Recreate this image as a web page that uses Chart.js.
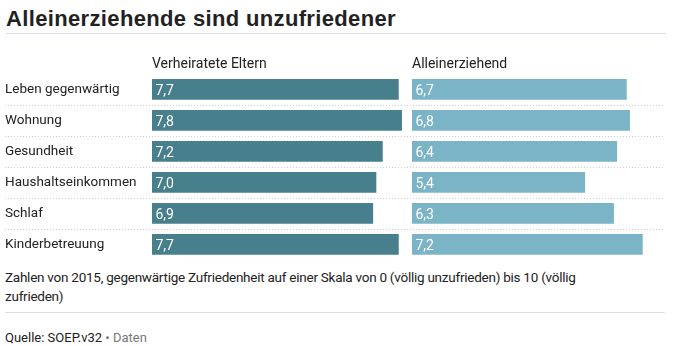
<!DOCTYPE html>
<html lang="de">
<head>
<meta charset="utf-8">
<script src="https://cdn.jsdelivr.net/npm/chart.js@4/dist/chart.umd.min.js"></script>
<style>
  html, body { margin: 0; padding: 0; background: #fff; }
  body { width: 673px; height: 346px; position: relative; overflow: hidden; color: #222;
         font-family: Roboto, sans-serif; }
  .title { position: absolute; left: 6px; top: 6px; margin: 0;
           font: bold 22px "Liberation Sans", Arial, sans-serif; letter-spacing: 0.35px; }
  .rule-top { position: absolute; left: 6px; width: 660px; top: 33px; border-top: 1px solid #e2d8e6; }
  .chart { position: absolute; left: 0; top: 50px; width: 673px; height: 218px; }
  .note { position: absolute; left: 5px; top: 268px; width: 665px; font-size: 13.5px; letter-spacing: -0.25px;
          line-height: 19px; margin: 0; }
  .rule-bottom { position: absolute; left: 5px; width: 660px; top: 312px; border-top: 1px solid #ddd; }
  .source { position: absolute; left: 5px; top: 330px; font-size: 13px; margin: 0; }
  .source .dim { color: #777; }
</style>
</head>
<body>
<h1 class="title">Alleinerziehende sind unzufriedener</h1>
<div class="rule-top"></div>
<div class="chart"><canvas id="chart"></canvas></div>
<p class="note">Zahlen von 2015, gegenwärtige Zufriedenheit auf einer Skala von 0 (völlig unzufrieden) bis 10 (völlig<br>zufrieden)</p>
<div class="rule-bottom"></div>
<p class="source">Quelle: SOEP.v32 <span class="dim">•</span> <span class="dim">Daten</span></p>

<script>
const categories = ['Leben gegenwärtig', 'Wohnung', 'Gesundheit', 'Haushaltseinkommen', 'Schlaf', 'Kinderbetreuung'];
const seriesNames = ['Verheiratete Eltern', 'Alleinerziehend'];
const verheiratet = [7.7, 7.8, 7.2, 7.0, 6.9, 7.7];
const alleinerziehend = [6.7, 6.8, 6.4, 5.4, 6.3, 7.2];

const FONT = 'Roboto, sans-serif';

// Werte als Text in den Balken (Komma als Dezimaltrenner)
const barValues = {
  id: 'barValues',
  afterDatasetsDraw(chart) {
    const ctx = chart.ctx;
    ctx.save();
    ctx.fillStyle = '#fff';
    ctx.font = '14px ' + FONT;
    ctx.textBaseline = 'middle';
    ctx.textAlign = 'left';
    chart.data.datasets.forEach((ds, i) => {
      chart.getDatasetMeta(i).data.forEach((bar, j) => {
        const txt = ds.data[j].toFixed(1).replace('.', ',');
        ctx.fillText(txt, bar.base + 3.5, bar.y + 2);
      });
    });
    ctx.restore();
  }
};

// gepunktete Trennlinien zwischen den Zeilen, über die ganze Breite
const rowLines = {
  id: 'rowLines',
  beforeDatasetsDraw(chart) {
    const ctx = chart.ctx;
    const y = chart.scales.y;
    ctx.save();
    ctx.strokeStyle = '#cfcfcf';
    ctx.lineWidth = 1;
    ctx.setLineDash([1, 2]);
    for (let i = 0; i < categories.length - 1; i++) {
      const py = Math.round((y.getPixelForValue(i) + y.getPixelForValue(i + 1)) / 2) + 0.5;
      ctx.beginPath();
      ctx.moveTo(5, py);
      ctx.lineTo(665, py);
      ctx.stroke();
    }
    ctx.restore();
  }
};

function panelAxis(title) {
  return {
    position: 'top',
    stack: 'panels',
    stackWeight: 1,
    min: 0,
    max: 8.125,
    grid: { display: false, drawTicks: false },
    border: { display: false },
    ticks: { display: false },
    title: {
      display: true,
      text: title,
      align: 'start',
      color: '#222',
      font: { family: FONT, size: 14, lineHeight: 1.2 },
      padding: { top: 6, bottom: 1 }
    }
  };
}

new Chart(document.getElementById('chart'), {
  type: 'bar',
  data: {
    labels: categories,
    datasets: [
      { label: seriesNames[0], data: verheiratet, xAxisID: 'x', backgroundColor: '#477f8c', grouped: false, barThickness: 20 },
      { label: seriesNames[1], data: alleinerziehend, xAxisID: 'x2', backgroundColor: '#7cb4c7', grouped: false, barThickness: 20 }
    ]
  },
  options: {
    indexAxis: 'y',
    responsive: true,
    maintainAspectRatio: false,
    animation: false,
    layout: { padding: { left: 5, right: 1, top: 0, bottom: 0 } },
    plugins: {
      legend: { display: false },
      tooltip: { enabled: false }
    },
    scales: {
      x2: panelAxis(seriesNames[1]),
      x: panelAxis(seriesNames[0]),
      y: {
        grid: { display: false },
        border: { display: false },
        afterFit: (scale) => { scale.width = 147; },
        ticks: {
          crossAlign: 'far',
          color: '#222',
          padding: 0,
          font: { family: FONT, size: 13.5 }
        }
      }
    }
  },
  plugins: [rowLines, barValues]
});
</script>
</body>
</html>
